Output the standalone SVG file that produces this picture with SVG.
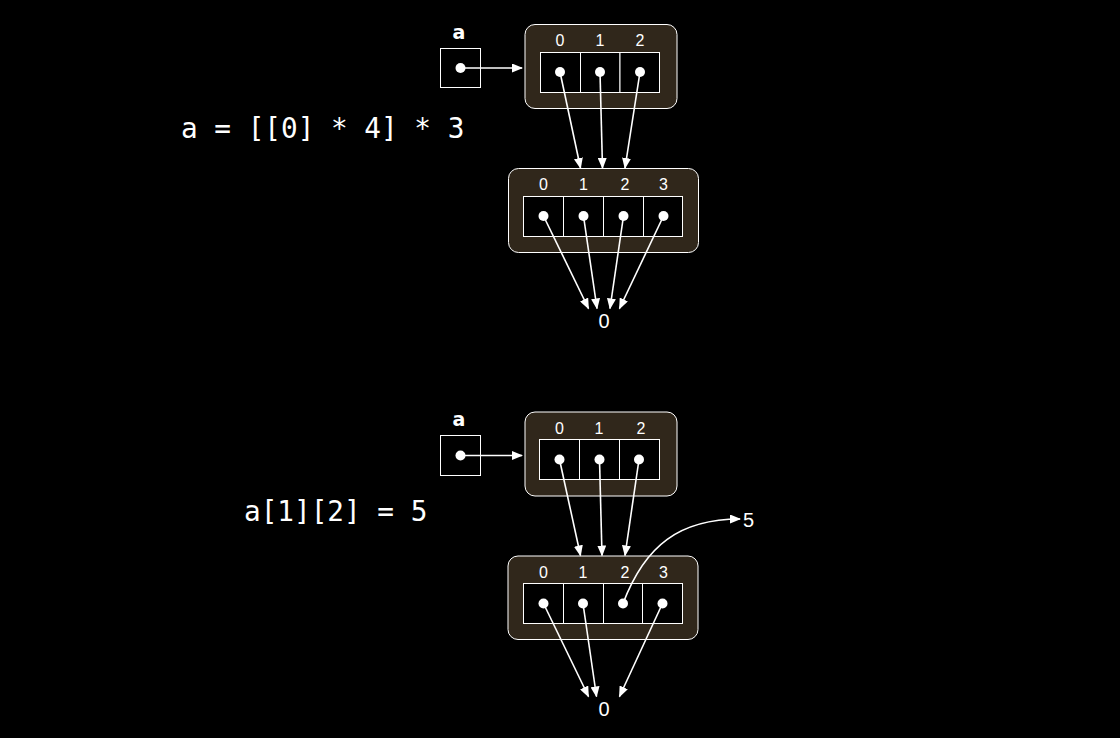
<svg xmlns="http://www.w3.org/2000/svg" width="1120" height="738" viewBox="0 0 1120 738">
<style>
.frame{fill:#30271b;stroke:#ffffff;stroke-width:1}
.cell{fill:#000000;stroke:#ffffff;stroke-width:1}
.dot{fill:#ffffff}
.idx{font-family:"Liberation Sans",Arial,sans-serif;font-size:16px;fill:#ffffff;text-anchor:middle}
.var{font-family:"DejaVu Sans",sans-serif;font-size:19px;font-weight:bold;fill:#ffffff;text-anchor:middle}
.val{font-family:"Liberation Sans",Arial,sans-serif;font-size:20px;fill:#ffffff}
.code{font-family:"DejaVu Sans Mono",monospace;font-size:27.7px;fill:#ffffff}
.edge{fill:none;stroke:#ffffff;stroke-width:1.6;marker-end:url(#ah)}
</style>
<defs>
<marker id="ah" markerUnits="userSpaceOnUse" markerWidth="11" markerHeight="9" refX="10" refY="4.5" orient="auto">
<path d="M0,0 L11,4.5 L0,9 z" fill="#ffffff"/>
</marker>
</defs>
<rect x="0" y="0" width="1120" height="738" fill="#000000"/>

<g id="code1"><text class="code" x="181" y="138">a = [[0] * 4] * 3</text></g>
<g id="code2"><text class="code" x="244" y="521">a[1][2] = 5</text></g>

<!-- top section -->
<g id="var-a-1">
<text class="var" x="459" y="39">a</text>
<rect class="cell" x="440.5" y="48.5" width="40" height="39"/>
<circle class="dot" cx="460.5" cy="68" r="5"/>
</g>
<g id="outer-1">
<rect class="frame" x="525" y="24.5" width="152" height="84" rx="10"/>
<text class="idx" x="560" y="46">0</text><text class="idx" x="600" y="46">1</text><text class="idx" x="640" y="46">2</text>
<rect class="cell" x="540.5" y="52.5" width="40" height="40"/>
<rect class="cell" x="580.5" y="52.5" width="39.5" height="40"/>
<rect class="cell" x="620" y="52.5" width="39.5" height="40"/>
<circle class="dot" cx="560" cy="72" r="5"/><circle class="dot" cx="600" cy="72" r="5"/><circle class="dot" cx="640" cy="72" r="5"/>
</g>
<g id="inner-1">
<rect class="frame" x="508.5" y="168.5" width="190" height="84" rx="10"/>
<text class="idx" x="543.5" y="190">0</text><text class="idx" x="583.5" y="190">1</text><text class="idx" x="625" y="190">2</text><text class="idx" x="663.5" y="190">3</text>
<rect class="cell" x="523.5" y="196.5" width="40" height="40"/>
<rect class="cell" x="563.5" y="196.5" width="40" height="40"/>
<rect class="cell" x="603.5" y="196.5" width="40" height="40"/>
<rect class="cell" x="643.5" y="196.5" width="39" height="40"/>
<circle class="dot" cx="543.5" cy="216" r="5"/><circle class="dot" cx="583.5" cy="216" r="5"/><circle class="dot" cx="623.5" cy="216" r="5"/><circle class="dot" cx="663.5" cy="216" r="5"/>
</g>
<g id="zero-1"><text class="val" x="604" y="327.5" text-anchor="middle">0</text></g>

<!-- bottom section -->
<g id="var-a-2">
<text class="var" x="459" y="426">a</text>
<rect class="cell" x="440.5" y="435.5" width="40" height="40"/>
<circle class="dot" cx="460.5" cy="455.5" r="5"/>
</g>
<g id="outer-2">
<rect class="frame" x="525" y="412" width="152" height="84" rx="10"/>
<text class="idx" x="559.5" y="434">0</text><text class="idx" x="599" y="434">1</text><text class="idx" x="641" y="434">2</text>
<rect class="cell" x="539.5" y="439.5" width="40" height="40"/>
<rect class="cell" x="579.5" y="439.5" width="40" height="40"/>
<rect class="cell" x="619.5" y="439.5" width="40" height="40"/>
<circle class="dot" cx="559.5" cy="459.5" r="5"/><circle class="dot" cx="599.5" cy="459.5" r="5"/><circle class="dot" cx="639" cy="459.5" r="5"/>
</g>
<g id="inner-2">
<rect class="frame" x="508" y="556" width="190" height="83.5" rx="10"/>
<text class="idx" x="543.5" y="578">0</text><text class="idx" x="583" y="578">1</text><text class="idx" x="625" y="578">2</text><text class="idx" x="663.5" y="578">3</text>
<rect class="cell" x="523.5" y="583.5" width="40" height="40"/>
<rect class="cell" x="563.5" y="583.5" width="40" height="40"/>
<rect class="cell" x="603.5" y="583.5" width="39" height="40"/>
<rect class="cell" x="642.5" y="583.5" width="40" height="40"/>
<circle class="dot" cx="543.5" cy="603.5" r="5"/><circle class="dot" cx="583" cy="603.5" r="5"/><circle class="dot" cx="623" cy="603.5" r="5"/><circle class="dot" cx="662.5" cy="603.5" r="5"/>
</g>
<g id="zero-2"><text class="val" x="604" y="716" text-anchor="middle">0</text></g>
<g id="five"><text class="val" x="743" y="527">5</text></g>

<g id="connectors">
<line class="edge" x1="460.5" y1="68" x2="522" y2="68"/>
<line class="edge" x1="560" y1="72" x2="580.5" y2="168"/>
<line class="edge" x1="600" y1="72" x2="602.5" y2="168"/>
<line class="edge" x1="640" y1="72" x2="625" y2="168"/>
<line class="edge" x1="543.5" y1="216" x2="588.5" y2="308.5"/>
<line class="edge" x1="583.5" y1="216" x2="597" y2="308.5"/>
<line class="edge" x1="623.5" y1="216" x2="610" y2="308.5"/>
<line class="edge" x1="663.5" y1="216" x2="619.5" y2="308.5"/>

<line class="edge" x1="460.5" y1="455.5" x2="522" y2="455.5"/>
<line class="edge" x1="559.5" y1="459.5" x2="580.5" y2="555.5"/>
<line class="edge" x1="599.5" y1="459.5" x2="602" y2="555.5"/>
<line class="edge" x1="639" y1="459.5" x2="625" y2="555.5"/>
<line class="edge" x1="543.5" y1="603.5" x2="588.5" y2="696.5"/>
<line class="edge" x1="583" y1="603.5" x2="596.5" y2="696.5"/>
<line class="edge" x1="662.5" y1="603.5" x2="619.5" y2="696.5"/>
<path class="edge" d="M623,603.5 C645,545 680,519 740,519"/>
</g>
</svg>
